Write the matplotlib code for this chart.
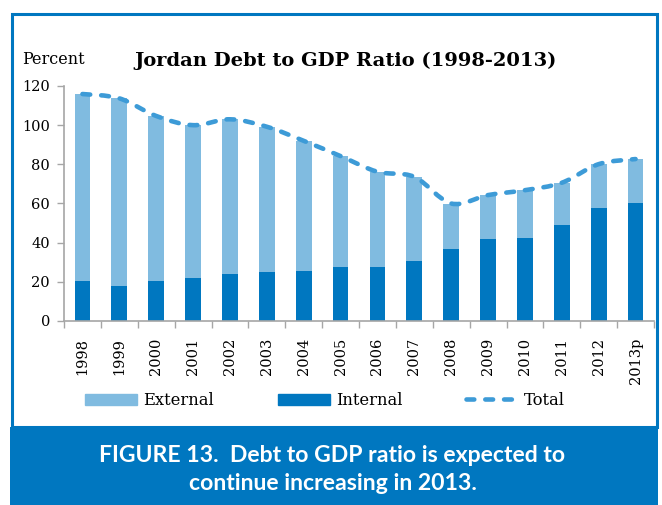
"""Jordan debt to GDP ratio, external vs internal, with total line."""

import matplotlib.pyplot as plt
import matplotlib.patches as mpatches
from matplotlib.lines import Line2D
from matplotlib.path import Path
import numpy as np

years = ['1998', '1999', '2000', '2001', '2002', '2003', '2004', '2005',
         '2006', '2007', '2008', '2009', '2010', '2011', '2012', '2013p']
internal = [20.3, 17.9, 20.3, 21.8, 24.2, 24.9, 25.6, 27.5,
            27.5, 30.4, 36.7, 41.8, 42.5, 48.8, 57.8, 60.5]
total = [115.9, 113.7, 104.7, 100.0, 103.0, 99.2, 92.0, 84.2,
         76.2, 73.6, 60.0, 64.3, 66.8, 70.6, 80.1, 82.7]
external = [t - i for t, i in zip(total, internal)]

BLUE = '#0077C0'
LIGHT = '#80BBE0'
LINE = '#3D9BD7'
GREY = '#A6A6A6'
SERIF = ['DejaVu Serif']

W, H = 662, 505
fig = plt.figure(figsize=(W / 100, H / 100), dpi=100)

# frame and caption band
fig.patches.append(mpatches.Rectangle((11.5 / W, 1 - 427 / H), 645 / W, 413 / H,
                                      transform=fig.transFigure, fill=False,
                                      edgecolor=BLUE, linewidth=2.2))
fig.patches.append(mpatches.Rectangle((10 / W, 0), 648 / W, 78 / H,
                                      transform=fig.transFigure, facecolor=BLUE,
                                      edgecolor='none'))

ax = fig.add_axes([64 / W, 1 - 321 / H, 590 / W, 235 / H])
x = np.arange(len(years))
ax.bar(x, internal, width=0.43, color=BLUE, edgecolor='none')
ax.bar(x, external, bottom=internal, width=0.43, color=LIGHT, edgecolor='none')

# smooth (Excel-style) total line as a Bezier path through the data points
pts = np.column_stack([x, total]).astype(float)
ext = np.vstack([pts[0], pts, pts[-1]])
verts = [pts[0]]
codes = [Path.MOVETO]
for k in range(len(pts) - 1):
    p0, p1, p2, p3 = ext[k], ext[k + 1], ext[k + 2], ext[k + 3]
    verts += [p1 + (p2 - p0) / 6, p2 - (p3 - p1) / 6, p2]
    codes += [Path.CURVE4] * 3
dash = (0, (1.7, 2.4))
ax.add_patch(mpatches.PathPatch(Path(verts, codes), fill=False, edgecolor=LINE,
                                linewidth=3.3, linestyle=dash, capstyle='round',
                                zorder=3))

ax.set_xlim(-0.5, len(years) - 0.5)
ax.set_ylim(0, 120)
ax.set_yticks(range(0, 121, 20))
ax.set_xticks(x)
ax.set_xticklabels(years, rotation=90, family=SERIF, fontsize=10.5)
ax.tick_params(axis='x', length=0, pad=12)
ax.set_xticks(np.arange(-0.5, len(years)), minor=True)
ax.tick_params(axis='x', which='minor', length=5, color=GREY, width=1)
ax.tick_params(axis='y', length=5, color=GREY, width=1, pad=5)
for lab in ax.get_yticklabels():
    lab.set_family(SERIF)
    lab.set_fontsize(10.5)
for s in ['top', 'right']:
    ax.spines[s].set_visible(False)
for s in ['left', 'bottom']:
    ax.spines[s].set_color(GREY)
    ax.spines[s].set_linewidth(1.2)

fig.text(22 / W, 1 - 63.5 / H, 'Percent', family=SERIF, fontsize=11.5, va='baseline')
fig.text(345.5 / W, 1 - 66.5 / H, 'Jordan Debt to GDP Ratio (1998-2013)', family=SERIF,
         fontsize=14, fontweight='bold', ha='center', va='baseline')

handles = [mpatches.Patch(color=LIGHT), mpatches.Patch(color=BLUE),
           Line2D([], [], color=LINE, linewidth=3.3, linestyle=dash,
                  dash_capstyle='round')]
fig.legend(handles, ['External', 'Internal', 'Total'], loc='center left',
           bbox_to_anchor=(85 / W, 1 - 400.5 / H), ncol=3, frameon=False,
           borderpad=0, borderaxespad=0,
           prop={'family': SERIF, 'size': 11.8}, handlelength=3.17,
           handleheight=0.67, columnspacing=3.9, handletextpad=0.37)

CAP = ['Lato', 'DejaVu Sans']
fig.text(332.5 / W, 1 - 461.5 / H, 'FIGURE 13.  Debt to GDP ratio is expected to',
         family=CAP, fontweight='bold', fontsize=16.6, color='white',
         ha='center', va='baseline')
fig.text(333 / W, 1 - 489.5 / H, 'continue increasing in 2013.',
         family=CAP, fontweight='bold', fontsize=16.6, color='white',
         ha='center', va='baseline')

plt.savefig('out.png', dpi=100)
